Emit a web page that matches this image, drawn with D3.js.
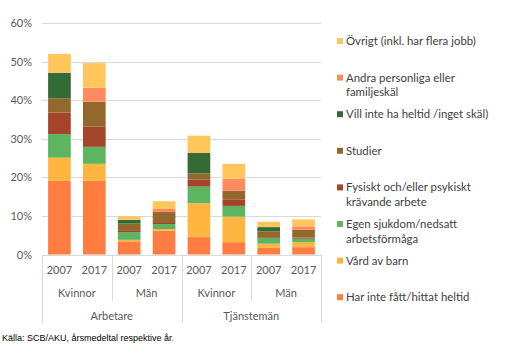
<!DOCTYPE html>
<html><head><meta charset="utf-8">
<script src="https://cdn.jsdelivr.net/npm/d3@7"></script>
<style>
body{margin:0;background:#fff;}
svg{display:block;}
text{font-family:Lato, "Open Sans", sans-serif;}
</style></head>
<body>
<svg id="c" width="507" height="356"></svg>
<script>
const groups = ["Arbetare", "Tjänstemän"];
const subgroups = ["Kvinnor", "Män"];
const years = ["2007", "2017"];
const seriesNames = [
  "Har inte fått/hittat heltid",
  "Vård av barn",
  "Egen sjukdom/nedsatt arbetsförmåga",
  "Fysiskt och/eller psykiskt krävande arbete",
  "Studier",
  "Vill inte ha heltid /inget skäl)",
  "Andra personliga eller familjeskäl",
  "Övrigt (inkl. har flera jobb)"
];
const legendLines = [
  ["Har inte fått/hittat heltid"],
  ["Vård av barn"],
  ["Egen sjukdom/nedsatt", "arbetsförmåga"],
  ["Fysiskt och/eller psykiskt", "krävande arbete"],
  ["Studier"],
  ["Vill inte ha heltid /inget skäl)"],
  ["Andra personliga eller", "familjeskäl"],
  ["Övrigt (inkl. har flera jobb)"]
];
// values in % per bar: Arb-K-07, Arb-K-17, Arb-M-07, Arb-M-17, Tj-K-07, Tj-K-17, Tj-M-07, Tj-M-17
const harInte   = [19.1, 19.1, 3.4, 6.2, 4.5, 3.2, 1.8, 1.9];
const vardBarn  = [6.0, 4.4, 0.4, 0.4, 8.8, 6.6, 1.0, 1.3];
const egenSjuk  = [6.1, 4.4, 2.0, 1.3, 4.3, 2.8, 1.5, 0.9];
const fysiskt   = [5.6, 5.3, 0.5, 0.5, 1.8, 1.7, 0.2, 0.3];
const studier   = [3.7, 6.4, 1.7, 2.6, 1.6, 2.2, 1.5, 2.0];
const villInte  = [6.6, 0.0, 1.0, 0.0, 5.3, 0.0, 1.1, 0.0];
const andra     = [0.0, 3.6, 0.0, 0.8, 0.0, 3.1, 0.0, 0.9];
const ovrigt    = [4.9, 6.4, 0.9, 2.0, 4.5, 3.9, 1.4, 1.8];
const yTicks = [0, 10, 20, 30, 40, 50, 60];
const sourceText = "Källa: SCB/AKU, årsmedeltal respektive år";

const seriesValues = [harInte, vardBarn, egenSjuk, fysiskt, studier, villInte, andra, ovrigt];
const colors = ["#FF7D40", "#FFB640", "#5EB55F", "#A4442A", "#93682C", "#336A35", "#FF8B5D", "#FFC65C"];

const bars = [];
groups.forEach(g => subgroups.forEach(s => years.forEach(yr => bars.push({g, s, y: yr, key: g + "|" + s + "|" + yr}))));
const table = bars.map((b, i) => {
  const row = {key: b.key};
  seriesNames.forEach((n, j) => row[n] = seriesValues[j][i]);
  return row;
});

const svg = d3.select("#c");
const pLeft = 42, pRight = 321, pTop = 23, pBottom = 254.5;

const x = d3.scaleBand().domain(bars.map(b => b.key)).range([pLeft, pRight]).paddingInner(0.35).paddingOuter(0.175);
const y = d3.scaleLinear().domain([0, 60]).range([pBottom, pTop]);

// gridlines
svg.append("g").selectAll("line").data(yTicks.slice(1)).join("line")
  .attr("x1", pLeft).attr("x2", pRight)
  .attr("y1", d => Math.round(y(d)) + 0.5).attr("y2", d => Math.round(y(d)) + 0.5)
  .attr("stroke", "#d9d9d9").attr("stroke-width", 1);

// y axis labels
const yAxis = d3.axisLeft(y).tickValues(yTicks).tickFormat(d => d + "%").tickSize(0).tickPadding(10);
const ya = svg.append("g").attr("transform", `translate(${pLeft},0)`).call(yAxis);
ya.select(".domain").remove();
ya.selectAll("text").attr("fill", "#595959").style("font-size", "11px").style("font-family", "Lato, sans-serif");

// stacked bars
const stack = d3.stack().keys(seriesNames);
const stacked = stack(table);
svg.append("g").selectAll("g").data(stacked).join("g")
  .attr("fill", (d, i) => colors[i])
  .selectAll("rect").data(d => d).join("rect")
  .attr("x", d => x(d.data.key))
  .attr("width", x.bandwidth())
  .attr("y", d => y(d[1]))
  .attr("height", d => Math.max(0, y(d[0]) - y(d[1])));

// baseline
svg.append("line").attr("x1", pLeft).attr("x2", pRight).attr("y1", Math.round(pBottom) + 0.5).attr("y2", Math.round(pBottom) + 0.5)
  .attr("stroke", "#d9d9d9");

// multi-level category axis
const gAx = svg.append("g");
const lineCol = "#d9d9d9";
const yearY = 274, subY = 297, grpY = 320;
bars.forEach(b => {
  gAx.append("text").attr("x", x(b.key) + x.bandwidth() / 2).attr("y", yearY)
    .attr("text-anchor", "middle").attr("fill", "#595959").style("font-size", "11px").text(b.y);
});
groups.forEach(g => subgroups.forEach(s => {
  const k0 = g + "|" + s + "|" + years[0], k1 = g + "|" + s + "|" + years[years.length - 1];
  const cx = (x(k0) + x(k1) + x.bandwidth()) / 2;
  gAx.append("text").attr("x", cx).attr("y", subY).attr("text-anchor", "middle")
    .attr("fill", "#595959").style("font-size", "11px").text(s);
}));
groups.forEach(g => {
  const k0 = g + "|" + subgroups[0] + "|" + years[0], k1 = g + "|" + subgroups[subgroups.length - 1] + "|" + years[years.length - 1];
  const cx = (x(k0) + x(k1) + x.bandwidth()) / 2;
  gAx.append("text").attr("x", cx).attr("y", grpY).attr("text-anchor", "middle")
    .attr("fill", "#595959").style("font-size", "11px").text(g);
});
const nPerSub = years.length, nPerGrp = years.length * subgroups.length;
const catW = (pRight - pLeft) / bars.length;
for (let i = 0; i <= bars.length; i++) {
  if (i % nPerSub !== 0) continue;
  const xx = Math.round(pLeft + i * catW) + 0.5;
  const full = (i % nPerGrp === 0);
  gAx.append("line").attr("x1", xx).attr("x2", xx).attr("y1", pBottom).attr("y2", full ? 323 : 301)
    .attr("stroke", lineCol);
}

// legend
const legX = 337;
const legTop = 41, legStep = 36.6;
const order = d3.range(seriesNames.length).reverse();
order.forEach((si, idx) => {
  const cy = legTop + idx * legStep;
  svg.append("rect").attr("x", legX).attr("y", cy - 3).attr("width", 6).attr("height", 6).attr("fill", colors[si]);
  legendLines[si].forEach((ln, li) => {
    svg.append("text").attr("x", legX + 9).attr("y", cy + 4 + li * 14.5)
      .attr("fill", "#404040").style("font-size", "11.4px").text(ln);
  });
});

// source
const src = svg.append("text").attr("x", 2).attr("y", 341).style("font-family", "Liberation Sans, Arial, sans-serif")
  .style("font-size", "9px").attr("fill", "#000");
src.append("tspan").text(sourceText);
src.append("tspan").attr("fill", "#4a7ebb").text(".");
</script>
</body></html>
